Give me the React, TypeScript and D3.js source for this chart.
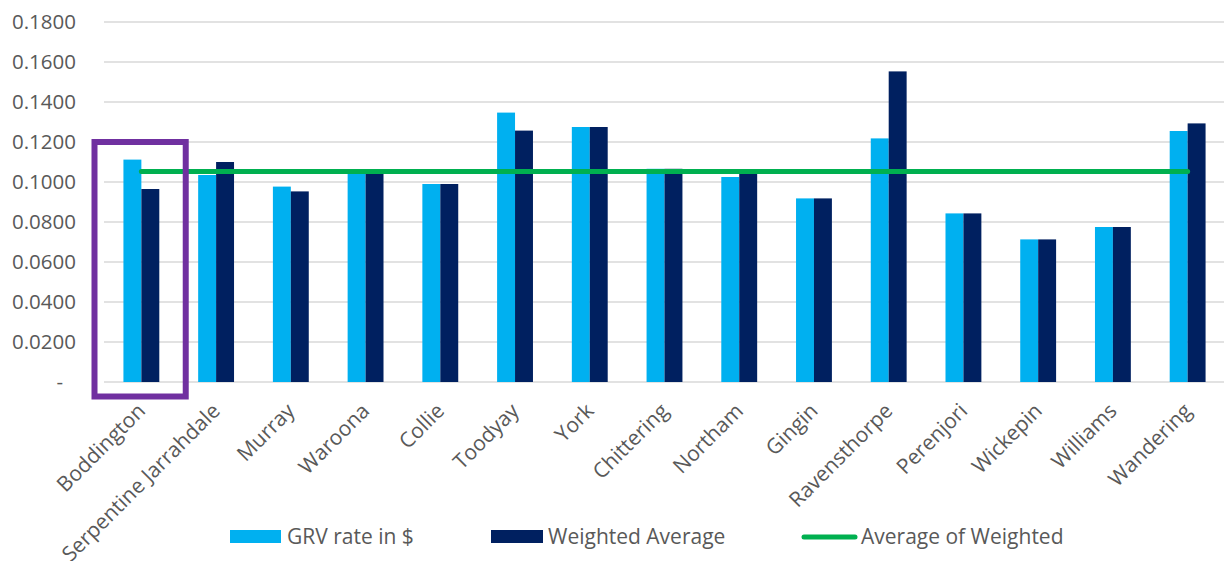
import { useEffect } from 'react';
import * as d3 from 'd3';

const WIDTH = 1224;
const HEIGHT = 561;
const MARGIN = { top: 22, right: 0, bottom: 179, left: 104 };

const categories = [
  'Boddington', 'Serpentine Jarrahdale', 'Murray', 'Waroona', 'Collie', 'Toodyay', 'York',
  'Chittering', 'Northam', 'Gingin', 'Ravensthorpe', 'Perenjori', 'Wickepin', 'Williams', 'Wandering',
];
const grvRate = [
  0.1112, 0.1035, 0.0977, 0.1048, 0.0990, 0.1347, 0.1275,
  0.1066, 0.1025, 0.0918, 0.1218, 0.0843, 0.0713, 0.0775, 0.1255,
];
const weightedAvg = [
  0.0965, 0.1100, 0.0953, 0.1048, 0.0990, 0.1257, 0.1275,
  0.1066, 0.1045, 0.0918, 0.1553, 0.0843, 0.0713, 0.0775, 0.1293,
];
const averageOfWeighted = 0.1053;
const yTicks = [0, 0.02, 0.04, 0.06, 0.08, 0.1, 0.12, 0.14, 0.16, 0.18];
const seriesNames = ['GRV rate in $', 'Weighted Average', 'Average of Weighted'];
const highlighted = 'Boddington';

const COLORS = { grv: '#00B0F0', weighted: '#002060', avg: '#00B050', box: '#7030A0', grid: '#D9D9D9', text: '#595959' };
const FONT = '"Open Sans", sans-serif';

export default function App() {
  useEffect(() => {
    document.body.style.margin = '0';
  }, []);

  const plotRight = 1225;
  const plotBottom = HEIGHT - MARGIN.bottom;

  const x = d3.scaleBand().domain(categories).range([MARGIN.left, plotRight]).padding(0);
  const bw = x.bandwidth();
  const groupW = bw * 0.48;
  const x1 = d3.scaleBand().domain(['grv', 'weighted']).range([(bw - groupW) / 2, (bw + groupW) / 2]);
  const y = d3.scaleLinear().domain([0, 0.18]).range([plotBottom, MARGIN.top]);

  const fmt = d3.format('.4f');
  const centerOf = (c: string) => (x(c) ?? 0) + bw / 2;

  // purple highlight around the first group
  const hx0 = (x(highlighted) ?? 0) - 9.5;
  const hx1 = (x(highlighted) ?? 0) + bw + 7;

  return (
    <svg width={WIDTH} height={HEIGHT} style={{ display: 'block', background: '#fff' }} fontFamily={FONT}>
      {/* grid + y labels */}
      {yTicks.map((t) => (
        <g key={t}>
          <line x1={MARGIN.left} x2={WIDTH} y1={y(t)} y2={y(t)} stroke={COLORS.grid} strokeWidth={1.3} />
          <text
            x={t === 0 ? 63 : 76}
            y={y(t)}
            dy="0.35em"
            textAnchor="end"
            fontSize={20.5}
            fill={COLORS.text}
          >
            {t === 0 ? '-' : fmt(t)}
          </text>
        </g>
      ))}

      {/* bars */}
      {categories.map((c, i) => (
        <g key={c} transform={`translate(${x(c)},0)`}>
          <rect x={x1('grv')} width={x1.bandwidth()} y={y(grvRate[i])} height={plotBottom - y(grvRate[i])} fill={COLORS.grv} />
          <rect x={x1('weighted')} width={x1.bandwidth()} y={y(weightedAvg[i])} height={plotBottom - y(weightedAvg[i])} fill={COLORS.weighted} />
        </g>
      ))}

      {/* average line */}
      <line
        x1={centerOf(categories[0])}
        x2={centerOf(categories[categories.length - 1])}
        y1={y(averageOfWeighted)}
        y2={y(averageOfWeighted)}
        stroke={COLORS.avg}
        strokeWidth={5}
        strokeLinecap="round"
      />

      {/* highlight box */}
      <rect
        x={hx0}
        y={y(0.12)}
        width={hx1 - hx0}
        height={plotBottom + 14.5 - y(0.12)}
        fill="none"
        stroke={COLORS.box}
        strokeWidth={6}
      />

      {/* category labels */}
      {categories.map((c) => (
        <text
          key={c}
          transform={`translate(${centerOf(c)},${plotBottom + 25}) rotate(-45)`}
          dy="0.35em"
          textAnchor="end"
          fontSize={21}
          fill={COLORS.text}
        >
          {c}
        </text>
      ))}

      {/* legend */}
      <g fontSize={21} fill={COLORS.text}>
        <rect x={230} y={530} width={51} height={13} fill={COLORS.grv} />
        <text x={287} y={537} dy="0.35em">{seriesNames[0]}</text>
        <rect x={491} y={530} width={52} height={13} fill={COLORS.weighted} />
        <text x={548} y={537} dy="0.35em">{seriesNames[1]}</text>
        <line x1={804} x2={855} y1={537} y2={537} stroke={COLORS.avg} strokeWidth={5} strokeLinecap="round" />
        <text x={861} y={537} dy="0.35em">{seriesNames[2]}</text>
      </g>
    </svg>
  );
}
